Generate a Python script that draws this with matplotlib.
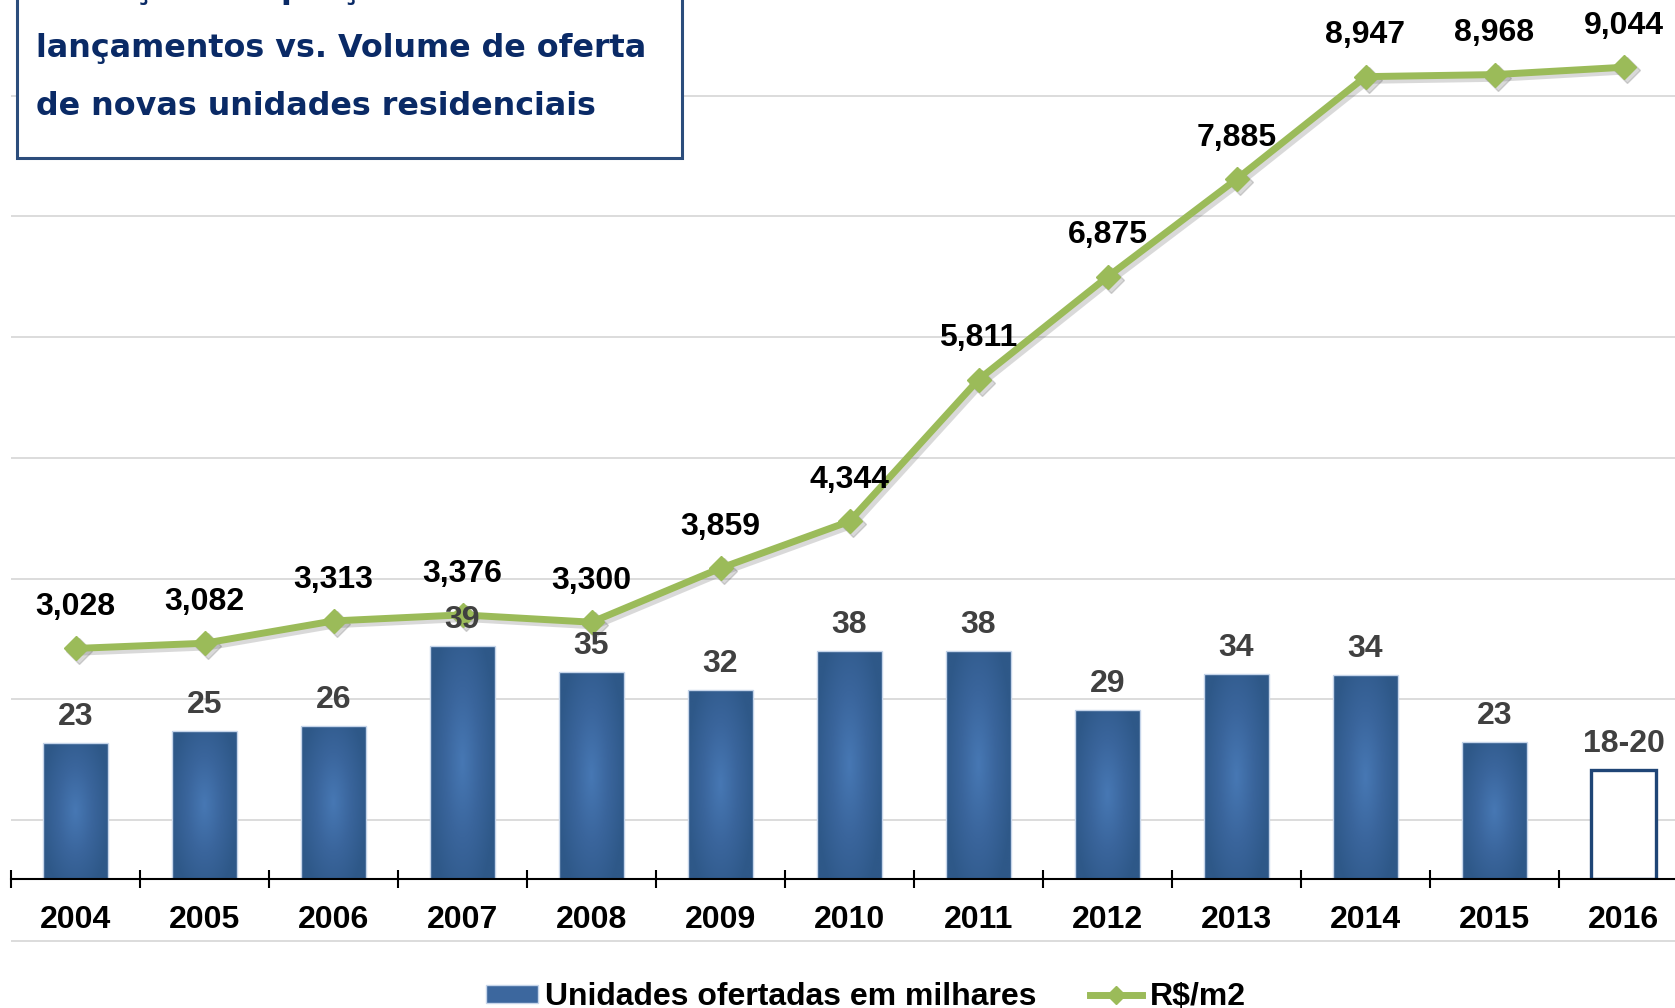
import numpy as np
import matplotlib
matplotlib.use("Agg")
import matplotlib.pyplot as plt
from matplotlib.colors import LinearSegmentedColormap
from matplotlib.patches import Rectangle
from matplotlib.lines import Line2D
from matplotlib.transforms import blended_transform_factory, offset_copy

# data
years = ['2004', '2005', '2006', '2007', '2008', '2009', '2010',
         '2011', '2012', '2013', '2014', '2015', '2016']
units = [23.0, 25.0, 25.9, 39.4, 35.0, 31.9, 38.6, 38.5, 28.6, 34.6, 34.4, 23.1, 18.4]
unit_labels = ['23', '25', '26', '39', '35', '32', '38', '38', '29', '34', '34', '23', '18-20']
price = [3028, 3082, 3313, 3376, 3300, 3859, 4344, 5811, 6875, 7885, 8947, 8968, 9044]
grid_vals = [0, 1250, 2500, 3750, 5000, 6250, 7500, 8750]
title_lines = ['Evolução dos preços médios de',
               'lançamentos vs. Volume de oferta',
               'de novas unidades residenciais']
legend_labels = ['Unidades ofertadas em milhares', 'R$/m2']

plt.rcParams['font.family'] = ['Liberation Sans', 'DejaVu Sans']

W, H = 1675, 1008
fig = plt.figure(figsize=(W / 100, H / 100), dpi=100)
fig.patch.set_facecolor('white')

base_y = 879.3  # x axis line, pixels from top
ax = fig.add_axes([11 / W, 1 - base_y / H, 1677 / W, base_y / H])
ax2 = ax.twinx()

x = np.arange(len(years))
green = '#9BBB59'
fs = 23

# bars with a soft radial shading
bars = ax.bar(x[:-1], units[:-1], width=0.5, color='#3B669D', linewidth=0, zorder=2)
gx, gy = np.meshgrid(np.linspace(-1, 1, 80), np.linspace(-1, 1, 160))
shade = np.clip(np.sqrt(0.85 * gx ** 2 + 0.6 * gy ** 2), 0, 1)
cmap = LinearSegmentedColormap.from_list('barshade', ['#4778B4', '#3A659C', '#2E5888'])
for b in bars:
    im = ax.imshow(shade, cmap=cmap, vmin=0, vmax=1, aspect='auto', interpolation='bilinear',
                   extent=[b.get_x(), b.get_x() + b.get_width(), 0, b.get_height()], zorder=2.1)
    im.set_clip_path(b)
ax.bar(x[:-1], units[:-1], width=0.5, facecolor='none', edgecolor='#C6D5EA', linewidth=1.0, zorder=2.2)
# forecast bar
ax.bar(x[-1], units[-1], width=0.5, facecolor='white', edgecolor='#1F4576', linewidth=2.4, zorder=2)

ax.set_xlim(-0.5, 12.5)
ax2.set_ylim(638.7, 9740.2)

# gridlines follow the price scale, drawn behind the bars
blend = blended_transform_factory(ax.transAxes, ax2.transData)
ax.hlines(grid_vals, 0, 1, transform=blend, colors='#D9D9D9', linewidth=1.3, zorder=0.5, clip_on=False)
ax.set_ylim(0, base_y / 5.926)

# price line with a soft drop shadow
shadow_tr = offset_copy(ax2.transData, fig=fig, x=3, y=-3, units='dots')
ax2.plot(x, price, color='#555555', alpha=0.22, lw=6, marker='D', ms=13, mec='#555555',
         transform=shadow_tr, zorder=2.9)
ax2.plot(x, price, color=green, lw=5, marker='D', ms=12.5, mec=green, zorder=3)

for xi, p in zip(x, price):
    ax2.annotate(f'{p:,}', (xi, p), xytext=(0, 24), textcoords='offset points',
                 ha='center', va='baseline', fontsize=fs, fontweight='bold', color='black', zorder=5)
for xi, h, lab in zip(x, units, unit_labels):
    ax2.annotate(lab, (xi, h), xycoords=ax.transData, xytext=(0, 13), textcoords='offset points',
                 ha='center', va='baseline', fontsize=fs, fontweight='bold', color='#404040', zorder=6)

# axes styling
for s in ax.spines.values():
    s.set_visible(False)
for s in ax2.spines.values():
    s.set_visible(False)
ax.spines['bottom'].set_visible(True)
ax.spines['bottom'].set_linewidth(1.5)
ax.spines['bottom'].set_color('black')
ax.set_xticks(x)
ax.set_xticklabels(years, fontsize=fs, fontweight='bold')
ax.set_xticks(np.arange(-0.5, 13, 1), minor=True)
ax.tick_params(axis='x', which='major', length=0, pad=18.3)
ax.tick_params(axis='x', which='minor', direction='inout', length=13, width=1.5, color='black')
ax.tick_params(axis='y', left=False, labelleft=False)
ax2.tick_params(axis='y', right=False, labelright=False)

# title box (cropped at the top as in the source slide)
fig.add_artist(Rectangle((16.5 / W, 1 - 158 / H), (681.5 - 16.5) / W, 0.3, transform=fig.transFigure,
                         facecolor='white', edgecolor='#2C4D7C', linewidth=2.2, zorder=10))
for i, line in enumerate(title_lines):
    fig.text(36 / W, 1 - (-2 + 58.5 * i) / H, line, ha='left', va='baseline', fontsize=22.9,
             fontweight='bold', family='DejaVu Sans', color='#0A2A66', zorder=11)

# legend
h_bar = Rectangle((0, 0), 1, 1, facecolor='#3C679E', edgecolor='#C6D5EA')
h_line = Line2D([], [], color=green, lw=5, marker='D', ms=9, mec=green)
fig.legend([h_bar, h_line], legend_labels, loc='center', bbox_to_anchor=(865.5 / W, 1 - 997 / H),
           ncol=2, frameon=False, prop={'weight': 'bold', 'size': fs}, handlelength=1.63,
           handleheight=0.5, handletextpad=0.22, columnspacing=1.7, borderpad=0, borderaxespad=0)

fig.savefig('out.png', dpi=100, facecolor='white')
